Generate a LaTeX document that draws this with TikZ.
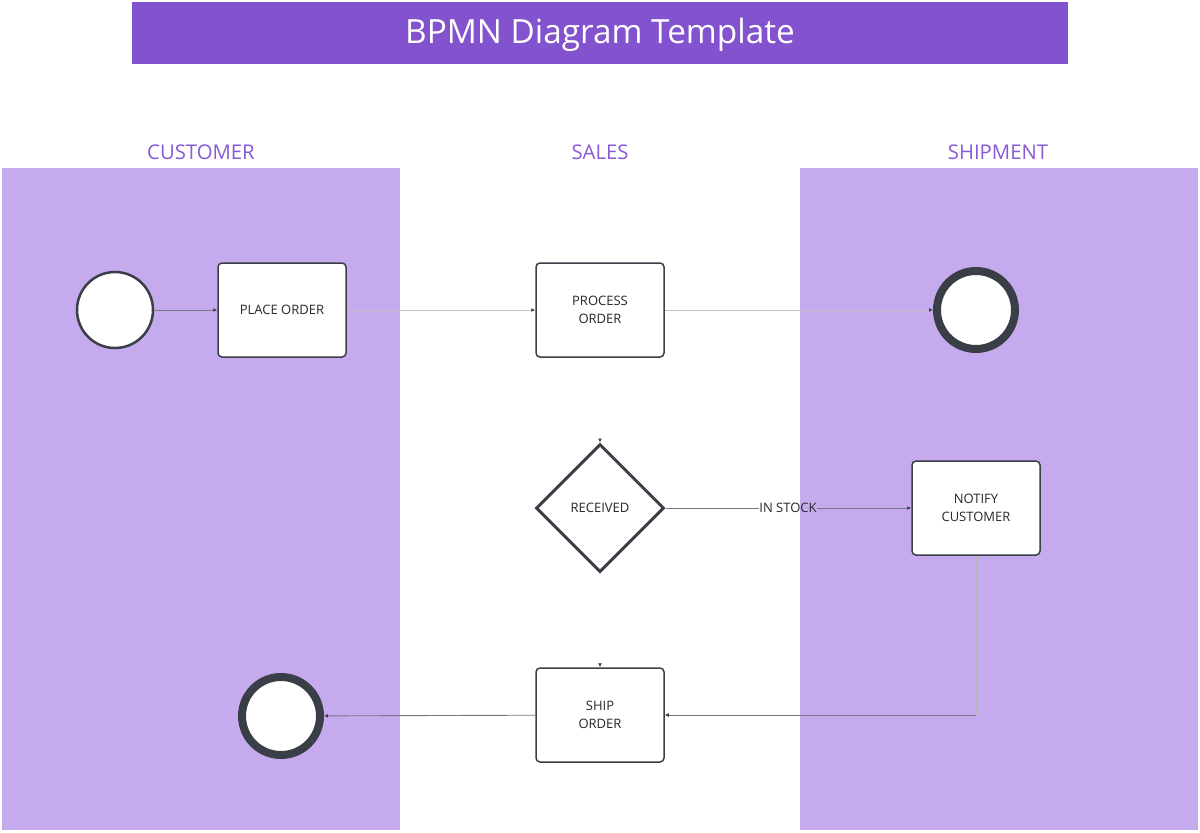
\documentclass[tikz,border=0pt]{standalone}
\usepackage{fontspec}
\setmainfont{Open Sans}
\usetikzlibrary{shapes.geometric,arrows.meta}
\definecolor{titlebg}{RGB}{131,82,206}
\definecolor{lanebg}{RGB}{197,170,238}
\definecolor{headtxt}{RGB}{137,90,214}
\definecolor{dark}{RGB}{58,63,71}
\definecolor{txt}{RGB}{40,40,40}
\definecolor{conn}{RGB}{120,120,128}
\tikzset{
  task/.style={draw=dark, line width=1.5pt, fill=white, rounded corners=4pt,
    minimum width=128pt, minimum height=94pt, align=center, text=txt,
    font=\fontsize{13}{18}\selectfont},
  startev/.style={circle, draw=dark, line width=2.5pt, fill=white, minimum size=76pt, inner sep=0},
  endev/.style={circle, draw=dark, line width=8pt, fill=white, minimum size=78pt, inner sep=0},
  gate/.style={diamond, draw=dark, line width=3pt, fill=white, minimum width=128pt, minimum height=128pt,
    inner sep=0, aspect=1, text=txt, font=\fontsize{13}{18}\selectfont},
  lanehead/.style={text=headtxt, font=\fontsize{20.3}{22}\selectfont},
  flow/.style={draw=conn, line width=0.9pt, -{Latex[length=4pt,width=4pt,color=dark]}},
  faint/.style={draw=conn!45, line width=0.9pt, -{Latex[length=4pt,width=4pt,color=dark]}},
  hidden/.style={draw=white, line width=0.9pt, -{Latex[length=4pt,width=4pt,color=dark]}},
}
\begin{document}
\begin{tikzpicture}[x=1pt,y=-1pt]
\useasboundingbox (0,0) rectangle (1200,833);
\fill[white] (0,0) rectangle (1200,833);
% title
\fill[titlebg] (132,2) rectangle (1068,64);
\node[text=white, font=\fontsize{33.3}{38}\selectfont] (title) at (600,35) {BPMN Diagram Template};
% lanes
\fill[lanebg] (2,168) rectangle (400,830);
\fill[lanebg] (800,168) rectangle (1198,830);
\node[lanehead] (h1) at (201,152) {CUSTOMER};
\node[lanehead] (h2) at (600,152) {SALES};
\node[lanehead] (h3) at (998,152) {SHIPMENT};
% nodes
\node[startev] (start) at (115,310) {};
\node[task] (place) at (282,310) {PLACE ORDER};
\node[task] (process) at (600,310) {PROCESS\\ORDER};
\node[endev] (end1) at (976,310) {};
\node[gate] (recv) at (600,508) {RECEIVED};
\node[task] (notify) at (976,508) {NOTIFY\\CUSTOMER};
\node[task] (ship) at (600,715) {SHIP\\ORDER};
\node[endev] (end2) at (281,716) {};
\node[inner sep=0, text=txt, font=\fontsize{13}{18}\selectfont] (instock) at (788,508) {IN STOCK};
% connectors
\draw[flow] (start) -- (place);
\draw[faint] (place) -- (process);
\draw[faint] (process) -- (end1);
\draw[hidden] (process) -- (recv);
\draw[draw=conn, line width=0.9pt] (recv) -- (instock);
\draw[flow] (instock) -- (notify);
\draw[hidden] (recv) -- (ship);
\draw[draw=conn!55, line width=0.9pt] (notify.south) -- (notify.south |- ship.east) coordinate (corner);
\draw[flow] (corner) -- (ship.east);
\draw[flow] (ship) -- (end2);
\end{tikzpicture}
\end{document}
